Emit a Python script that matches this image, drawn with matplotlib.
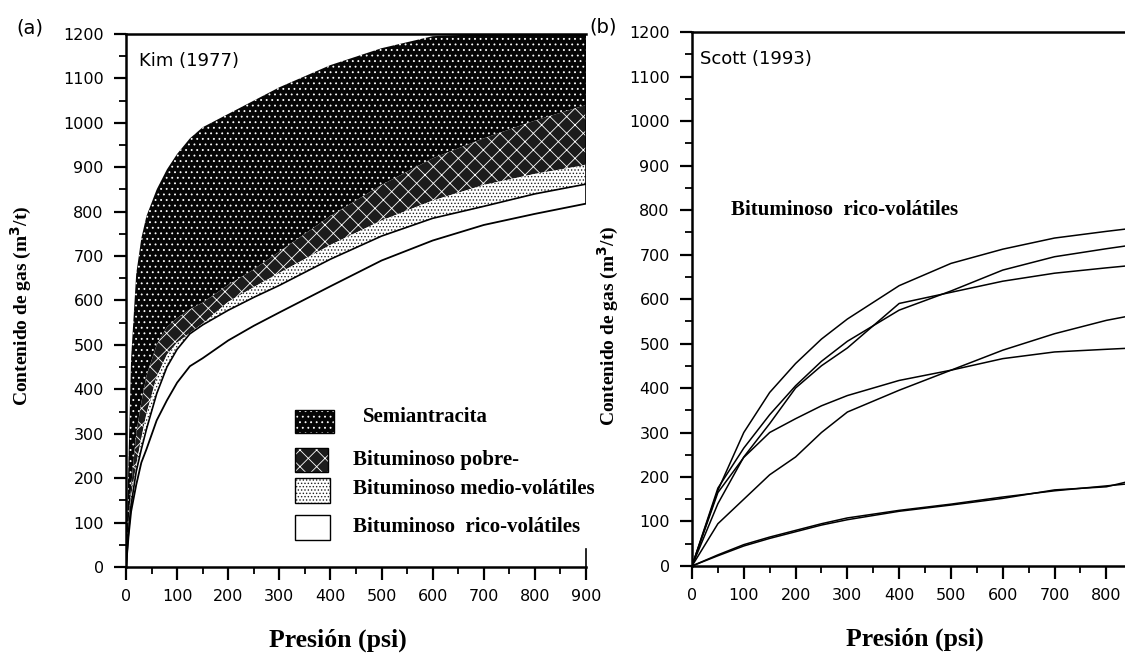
import matplotlib
matplotlib.use("Agg")
import matplotlib.pyplot as plt
from matplotlib.patches import Rectangle
from matplotlib.ticker import MultipleLocator

plt.rcParams.update({
    "font.family": "DejaVu Sans",
    "hatch.linewidth": 0.6,
})

# ---------------- panel (a): Kim (1977), bands per coal rank ----------------
pres_a = [0, 5, 10, 20, 30, 40, 60, 80, 100, 125, 150, 200, 250, 300,
          400, 500, 600, 700, 800, 900]
semi_top = [0, 250, 470, 660, 740, 790, 850, 895, 930, 965, 990, 1020,
            1050, 1080, 1130, 1168, 1195, 1200, 1200, 1200]
semi_pobre = [0, 100, 180, 300, 370, 430, 500, 540, 560, 580, 595, 635,
              670, 710, 790, 860, 920, 965, 1005, 1040]
pobre_medio = [0, 90, 160, 230, 290, 345, 428, 478, 505, 527, 548, 597,
               630, 662, 725, 780, 825, 860, 885, 905]
medio_rico = [0, 80, 140, 215, 265, 310, 390, 450, 490, 525, 545, 578,
              607, 634, 693, 745, 785, 812, 840, 862]
rico_low = [0, 70, 125, 185, 235, 265, 330, 375, 415, 452, 470, 510,
            543, 573, 632, 690, 735, 770, 795, 818]

rank_labels = ["Semiantracita", "Bituminoso pobre-",
               "Bituminoso medio-volátiles", "Bituminoso  rico-volátiles"]

# ---------------- panel (b): Scott (1993), isotherms ----------------
pres_b = [0, 50, 100, 150, 200, 250, 300, 400, 500, 600, 700, 800, 836]
iso_1 = [0, 170, 300, 390, 455, 510, 555, 630, 680, 712, 737, 752, 757]
iso_2 = [0, 175, 265, 340, 405, 460, 505, 575, 618, 665, 695, 713, 719]
iso_3 = [0, 140, 245, 320, 400, 450, 490, 590, 615, 640, 658, 670, 674]
iso_4 = [0, 95, 150, 205, 245, 300, 346, 395, 440, 485, 522, 552, 560]
iso_5 = [0, 165, 244, 300, 331, 360, 383, 417, 440, 466, 481, 487, 489]
iso_6 = [0, 25, 48, 65, 80, 95, 108, 125, 139, 155, 169, 180, 184]
iso_7 = [0, 23, 45, 62, 77, 92, 104, 123, 137, 152, 171, 178, 188]

SERIF = "Liberation Serif"
TICK_FS = 11.5


def style_axes(ax, xmax, xlab_x):
    ax.set_xlim(0, xmax)
    ax.set_ylim(0, 1200)
    ax.xaxis.set_major_locator(MultipleLocator(100))
    ax.xaxis.set_minor_locator(MultipleLocator(50))
    ax.yaxis.set_major_locator(MultipleLocator(100))
    ax.yaxis.set_minor_locator(MultipleLocator(50))
    ax.tick_params(which="major", direction="out", length=9, width=1.6,
                   pad=7, labelsize=TICK_FS)
    ax.tick_params(which="minor", direction="out", length=5, width=1.3)
    for s in ["left", "bottom", "top"]:
        ax.spines[s].set_linewidth(1.8)
    ax.spines["right"].set_visible(False)
    ax.set_xlabel("Presión (psi)", fontsize=18.5, fontweight="bold",
                  family=SERIF, va="center")
    ax.xaxis.set_label_coords(xlab_x, -0.137)
    ax.set_ylabel("Contenido de gas (m$^{\\mathbf{3}}$/t)", fontsize=14,
                  fontweight="bold", family=SERIF, va="center")


fig = plt.figure(figsize=(11.25, 6.56), dpi=100)
ax_a = fig.add_axes([0.112, 0.1357, 0.4089, 0.8125])
ax_b = fig.add_axes([0.6151, 0.1372, 0.3849, 0.814])

# ---- panel (a) ----
band_styles = [
    dict(facecolor="#050505", edgecolor="white", hatch="..."),
    dict(facecolor="#1c1c1c", edgecolor="white", hatch="xx"),
    dict(facecolor="white", edgecolor="#222222", hatch="....."),
    dict(facecolor="white", edgecolor="white", hatch=None),
]
bounds = [semi_top, semi_pobre, pobre_medio, medio_rico, rico_low]
for k, st in enumerate(band_styles):
    ax_a.fill_between(pres_a, bounds[k + 1], bounds[k], linewidth=0, **st)
ax_a.plot(pres_a, medio_rico, color="black", lw=1.2)
ax_a.plot(pres_a, rico_low, color="black", lw=1.3)
ax_a.vlines(pres_a[-1], rico_low[-1], semi_top[-1], color="black", lw=1.2)

style_axes(ax_a, 900, 0.46)
ax_a.spines["right"].set_visible(True)
ax_a.spines["right"].set_bounds(0, 40)
ax_a.spines["right"].set_linewidth(1.2)
ax_a.yaxis.set_label_coords(-0.228, 0.49)
ax_a.text(25, 1140, "Kim (1977)", fontsize=13, va="center", ha="left")

# legend swatches drawn like the original key
sw = [(331, 301, 75, 52), (331, 213, 65, 54), (331, 144, 69, 56),
      (331, 61, 69, 56)]
txt_pos = [(463, 337), (445, 240), (445, 175), (445, 90)]
for (x0, y0, w, h), st, lab, (tx, ty) in zip(sw, band_styles, rank_labels,
                                             txt_pos):
    ax_a.add_patch(Rectangle((x0, y0), w, h, linewidth=0, zorder=3, **st))
    ax_a.add_patch(Rectangle((x0, y0), w, h, fill=False, edgecolor="black",
                             linewidth=1.0, zorder=4))
    ax_a.text(tx, ty, lab, fontsize=15, fontweight="bold", family=SERIF,
              va="center", ha="left")

# ---- panel (b) ----
for iso in [iso_1, iso_2, iso_3, iso_4, iso_5, iso_6, iso_7]:
    ax_b.plot(pres_b, iso, color="black", lw=1.1)
style_axes(ax_b, 836, 0.515)
ax_b.yaxis.set_label_coords(-0.192, 0.45)
ax_b.text(15, 1140, "Scott (1993)", fontsize=13, va="center", ha="left")
ax_b.text(75, 800, "Bituminoso  rico-volátiles", fontsize=15,
          fontweight="bold", family=SERIF, va="center", ha="left")

fig.text(0.027, 0.957, "(a)", fontsize=14, ha="center", va="center")
fig.text(0.536, 0.959, "(b)", fontsize=14, ha="center", va="center")

fig.savefig("out.png", dpi=100, facecolor="white")
